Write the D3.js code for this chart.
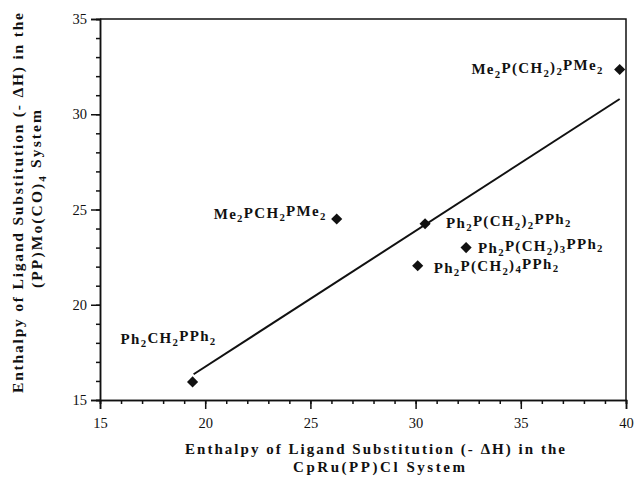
<!DOCTYPE html>
<html>
<head>
<meta charset="utf-8">
<script src="https://cdn.jsdelivr.net/npm/d3@7"></script>
<style>
  body { margin: 0; background: #fff; }
  svg { display: block; }
  text { font-family: "Liberation Serif", "Times New Roman", serif; fill: #111; }
</style>
</head>
<body>
<div id="main"></div>
<script>
// DATA
// "_" marks the next character as a subscript
var ligands = ['Ph_2CH_2PPh_2', 'Me_2PCH_2PMe_2', 'Ph_2P(CH_2)_2PPh_2',
               'Ph_2P(CH_2)_3PPh_2', 'Ph_2P(CH_2)_4PPh_2', 'Me_2P(CH_2)_2PMe_2']
var ru_enthalpy = [19.4, 26.25, 30.45, 32.4, 30.1, 39.7]   // x : CpRu(PP)Cl
var mo_enthalpy = [15.95, 24.5, 24.25, 23.0, 22.05, 32.35] // y : (PP)Mo(CO)4
var fit_x = [19.45, 39.7]
var fit_y = [16.35, 30.8]
var major_ticks = [15, 20, 25, 30, 35, 40]
var y_major_ticks = [15, 20, 25, 30, 35]
var x_title = ['Enthalpy of Ligand Substitution (- ΔH) in the', 'CpRu(PP)Cl System']
var y_title = ['Enthalpy of Ligand Substitution (- ΔH) in the', '(PP)Mo(CO)_4 System']

// Label placement around each point: [anchor, dx, dy]
var label_place = {
  'Ph_2CH_2PPh_2': ['middle', -24, -38],
  'Me_2PCH_2PMe_2': ['end', -10, 0],
  'Ph_2P(CH_2)_2PPh_2': ['start', 21, 4],
  'Ph_2P(CH_2)_3PPh_2': ['start', 12, 5],
  'Ph_2P(CH_2)_4PPh_2': ['start', 16, 7],
  'Me_2P(CH_2)_2PMe_2': ['end', -16, 5]
}

var width = 634, height = 477
var margin = {left: 100, right: 8, top: 19, bottom: 77}

var svg = d3.select('#main').append('svg')
  .attr('width', width).attr('height', height)

var x = d3.scaleLinear().domain([15, 40]).range([margin.left, width - margin.right])
var y = d3.scaleLinear().domain([15, 35]).range([height - margin.bottom, margin.top])

// Writes a string into a text element, turning "_c" into a subscript c
function write_sub(sel, str) {
  let parts = str.split('_')
  sel.append('tspan').text(parts[0])
  for (let p of parts.slice(1)) {
    sel.append('tspan').attr('dy', '0.32em').style('font-size', '0.72em').text(p[0])
    sel.append('tspan').attr('dy', '-0.32em').text(p.slice(1))
  }
}

// Frame (top and right)
svg.append('path')
  .attr('d', `M${x(15)},${y(35)}H${x(40)}V${y(15)}`)
  .attr('fill', 'none').attr('stroke', '#111').attr('stroke-width', 1.5)

// Minor ticks
svg.append('g')
  .attr('transform', `translate(0,${y(15)})`)
  .call(d3.axisBottom(x).tickValues(d3.range(15, 41)).tickSize(4).tickFormat(''))
svg.append('g')
  .attr('transform', `translate(${x(15)},0)`)
  .call(d3.axisLeft(y).tickValues(d3.range(15, 36)).tickSize(4).tickFormat(''))

// Major ticks and labels
svg.append('g')
  .attr('class', 'xaxis')
  .attr('transform', `translate(0,${y(15)})`)
  .call(d3.axisBottom(x).tickValues(major_ticks).tickSize(9).tickPadding(9))
svg.append('g')
  .attr('class', 'yaxis')
  .attr('transform', `translate(${x(15)},0)`)
  .call(d3.axisLeft(y).tickValues(y_major_ticks).tickSize(9).tickPadding(4))

svg.selectAll('.domain, .tick line').attr('stroke', '#111').attr('stroke-width', 1.5)
svg.selectAll('.xaxis text, .yaxis text')
  .style('font-family', '"Liberation Serif", "Times New Roman", serif')
  .style('font-size', '14.5px').attr('fill', '#111')

// Fit line
svg.append('path')
  .datum(d3.zip(fit_x, fit_y))
  .attr('d', d3.line().x(d => x(d[0])).y(d => y(d[1])))
  .attr('fill', 'none').attr('stroke', '#111').attr('stroke-width', 2)

// Points
var points = d3.zip(ligands, ru_enthalpy, mo_enthalpy)
svg.selectAll('path.pt')
  .data(points)
  .join('path')
    .attr('class', 'pt')
    .attr('d', d3.symbol(d3.symbolSquare, 62))
    .attr('transform', d => `translate(${x(d[1])},${y(d[2])}) rotate(45)`)
    .attr('fill', '#111')

// Point labels
svg.selectAll('text.lbl')
  .data(points)
  .join('text')
    .attr('class', 'lbl')
    .attr('x', d => x(d[1]) + label_place[d[0]][1])
    .attr('y', d => y(d[2]) + label_place[d[0]][2])
    .attr('text-anchor', d => label_place[d[0]][0])
    .style('font-size', '15px').style('font-weight', 'bold').style('letter-spacing', '1.3px')
    .each(function(d) { write_sub(d3.select(this), d[0]) })

// Axis titles
var tx = svg.append('g').style('font-weight', 'bold').style('font-size', '15px')
tx.append('text').attr('x', 375).attr('y', 454).attr('text-anchor', 'middle')
  .attr('textLength', 380).attr('lengthAdjust', 'spacing').call(write_sub, x_title[0])
tx.append('text').attr('x', 379).attr('y', 472).attr('text-anchor', 'middle')
  .attr('textLength', 172).attr('lengthAdjust', 'spacing').call(write_sub, x_title[1])

var ty = svg.append('g').style('font-weight', 'bold').style('font-size', '15.5px')
ty.append('text').attr('transform', 'translate(23,203) rotate(-90)').attr('text-anchor', 'middle')
  .attr('textLength', 380).attr('lengthAdjust', 'spacing').call(write_sub, y_title[0])
ty.append('text').attr('transform', 'translate(42,199) rotate(-90)').attr('text-anchor', 'middle')
  .attr('textLength', 178).attr('lengthAdjust', 'spacing').call(write_sub, y_title[1])
</script>
</body>
</html>
